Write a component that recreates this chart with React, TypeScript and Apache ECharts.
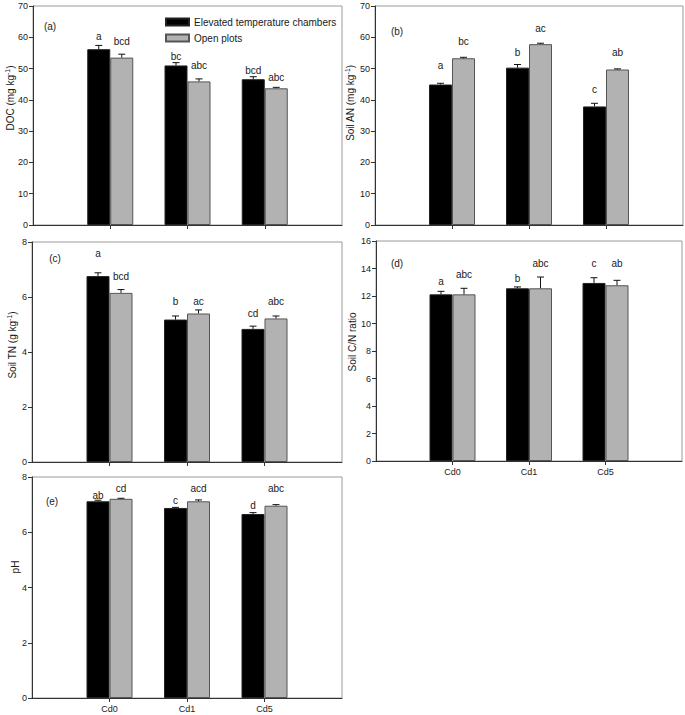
import React, { useEffect, useRef } from "react";
import * as echarts from "echarts";

const FONT = "'Liberation Sans', Arial, Helvetica, sans-serif";

const CATEGORIES = ["Cd0", "Cd1", "Cd5"];
const SERIES_NAMES = ["Elevated temperature chambers", "Open plots"];

// (a) DOC
const docChamber = [56.2, 51.0, 46.6];
const docChamberErr = [1.2, 0.9, 0.8];
const docOpen = [53.5, 45.9, 43.7];
const docOpenErr = [1.1, 0.8, 0.3];
const docChamberLetters = ["a", "bc", "bcd"];
const docOpenLetters = ["bcd", "abc", "abc"];
const docChamberLetterY = [60.4, 53.9, 49.4];
const docOpenLetterY = [58.6, 51.1, 47.2];

// (b) Soil AN
const anChamber = [44.9, 50.3, 37.9];
const anChamberErr = [0.4, 1.0, 1.0];
const anOpen = [53.3, 57.8, 49.7];
const anOpenErr = [0.3, 0.3, 0.2];
const anChamberLetters = ["a", "b", "c"];
const anOpenLetters = ["bc", "ac", "ab"];
const anChamberLetterY = [51.0, 55.1, 43.4];
const anOpenLetterY = [58.7, 62.9, 55.1];

// (c) Soil TN
const tnChamber = [6.76, 5.18, 4.84];
const tnChamberErr = [0.12, 0.13, 0.1];
const tnOpen = [6.15, 5.4, 5.22];
const tnOpenErr = [0.12, 0.13, 0.09];
const tnChamberLetters = ["a", "b", "cd"];
const tnOpenLetters = ["bcd", "ac", "abc"];
const tnChamberLetterY = [7.6, 5.85, 5.39];
const tnOpenLetterY = [6.73, 5.85, 5.85];

// (d) Soil C/N ratio
const cnChamber = [12.12, 12.56, 12.95];
const cnChamberErr = [0.22, 0.1, 0.38];
const cnOpen = [12.12, 12.56, 12.78];
const cnOpenErr = [0.44, 0.82, 0.36];
const cnChamberLetters = ["a", "b", "c"];
const cnOpenLetters = ["abc", "abc", "ab"];
const cnChamberLetterY = [13.04, 13.28, 14.38];
const cnOpenLetterY = [13.53, 14.38, 14.38];

// (e) pH
const phChamber = [7.12, 6.88, 6.66];
const phChamberErr = [0.04, 0.02, 0.05];
const phOpen = [7.21, 7.12, 6.96];
const phOpenErr = [0.02, 0.05, 0.04];
const phChamberLetters = ["ab", "c", "d"];
const phOpenLetters = ["cd", "acd", "abc"];
const phChamberLetterY = [7.33, 7.15, 6.96];
const phOpenLetterY = [7.6, 7.6, 7.6];

const Y_MAX = [70, 70, 8, 16, 8];
const Y_INTERVAL = [10, 10, 2, 2, 2];
const PANEL_TAGS = ["(a)", "(b)", "(c)", "(d)", "(e)"];

const PANELS = [
  { c: docChamber, ce: docChamberErr, o: docOpen, oe: docOpenErr, cl: docChamberLetters, ol: docOpenLetters, cy: docChamberLetterY, oy: docOpenLetterY },
  { c: anChamber, ce: anChamberErr, o: anOpen, oe: anOpenErr, cl: anChamberLetters, ol: anOpenLetters, cy: anChamberLetterY, oy: anOpenLetterY },
  { c: tnChamber, ce: tnChamberErr, o: tnOpen, oe: tnOpenErr, cl: tnChamberLetters, ol: tnOpenLetters, cy: tnChamberLetterY, oy: tnOpenLetterY },
  { c: cnChamber, ce: cnChamberErr, o: cnOpen, oe: cnOpenErr, cl: cnChamberLetters, ol: cnOpenLetters, cy: cnChamberLetterY, oy: cnOpenLetterY },
  { c: phChamber, ce: phChamberErr, o: phOpen, oe: phOpenErr, cl: phChamberLetters, ol: phOpenLetters, cy: phChamberLetterY, oy: phOpenLetterY },
];

// layout (pixels)
const GRIDS = [
  { left: 33, top: 6, width: 309, height: 219 },
  { left: 375, top: 6, width: 308, height: 219 },
  { left: 32, top: 242, width: 310, height: 220 },
  { left: 376, top: 241, width: 307, height: 220 },
  { left: 32, top: 477, width: 310, height: 221 },
];
const TAG_POS = [
  [50, 26],
  [397, 31],
  [55, 258],
  [397, 263],
  [52, 501],
];
const YTITLE_POS = [
  [10, 98],
  [350, 103],
  [12, 345],
  [352, 342],
  [15, 567],
];
const YTITLES = [
  "DOC (mg kg{sup|-1})",
  "Soil AN (mg kg{sup|-1})",
  "Soil TN (g kg{sup|-1})",
  "Soil C/N ratio",
  "pH",
];

const BAR_W = 23;
const HALF = BAR_W / 2;
const CAP = 3.5;
const TEXT_COLOR = "#1a1a1a";
const AXIS_COLOR = "#333";

function errSeries(gi: number, means: number[], errs: number[], labelY: number[], letters: string[], side: number) {
  return {
    type: "custom",
    xAxisIndex: gi,
    yAxisIndex: gi,
    silent: true,
    clip: false,
    z: 5,
    encode: { x: 0, y: 1 },
    data: means.map((m, i) => [i + 1, m, errs[i], labelY[i]]),
    renderItem: (params: any, api: any) => {
      const x = api.value(0);
      const m = api.value(1);
      const e = api.value(2);
      const ly = api.value(3);
      const base = api.coord([x, m]);
      const top = api.coord([x, m + e]);
      const lab = api.coord([x, ly]);
      const cx = base[0] + side * HALF;
      const stroke = "#111";
      return {
        type: "group",
        children: [
          { type: "line", shape: { x1: cx, y1: base[1], x2: cx, y2: top[1] }, style: { stroke, lineWidth: 1 } },
          { type: "line", shape: { x1: cx - CAP, y1: top[1], x2: cx + CAP, y2: top[1] }, style: { stroke, lineWidth: 1 } },
          {
            type: "text",
            x: cx,
            y: lab[1],
            style: {
              text: letters[params.dataIndex],
              fill: TEXT_COLOR,
              fontSize: 10,
              fontFamily: FONT,
              align: "center",
              verticalAlign: "middle",
            },
          },
        ],
      };
    },
  };
}

export default function App() {
  const ref = useRef<HTMLDivElement>(null);
  useEffect(() => {
    if (!ref.current) return;
    const chart = echarts.init(ref.current, null, { renderer: "svg" });
    const axisData = ["", ...CATEGORIES, ""];

    const grid = GRIDS.map((g) => ({
      ...g,
      show: true,
      borderColor: "#9a9a9a",
      borderWidth: 1,
      backgroundColor: "transparent",
      containLabel: false,
    }));

    const xAxis = GRIDS.map((_, i) => ({
      type: "category",
      gridIndex: i,
      data: axisData,
      boundaryGap: false,
      axisLine: { show: true, lineStyle: { color: AXIS_COLOR, width: 1 } },
      axisTick: {
        show: true,
        interval: (idx: number) => idx >= 1 && idx <= 3,
        length: 4,
        lineStyle: { color: AXIS_COLOR },
      },
      axisLabel: {
        show: i >= 3,
        interval: 0,
        fontSize: 9,
        color: TEXT_COLOR,
        fontFamily: FONT,
        margin: 6,
      },
      splitLine: { show: false },
    }));

    const yAxis = GRIDS.map((_, i) => ({
      type: "value",
      gridIndex: i,
      min: 0,
      max: Y_MAX[i],
      interval: Y_INTERVAL[i],
      axisLine: { show: true, lineStyle: { color: AXIS_COLOR, width: 1 } },
      axisTick: { show: true, length: 4, lineStyle: { color: AXIS_COLOR } },
      axisLabel: { fontSize: 9, color: TEXT_COLOR, fontFamily: FONT, margin: 5 },
      splitLine: { show: false },
    }));

    const series: any[] = [];
    PANELS.forEach((p, i) => {
      series.push({
        type: "bar",
        name: SERIES_NAMES[0],
        xAxisIndex: i,
        yAxisIndex: i,
        barWidth: BAR_W,
        barGap: "0%",
        data: ["-", ...p.c, "-"],
        itemStyle: { color: "#000000", borderColor: "#222", borderWidth: 1 },
        silent: true,
      });
      series.push({
        type: "bar",
        name: SERIES_NAMES[1],
        xAxisIndex: i,
        yAxisIndex: i,
        barWidth: BAR_W,
        barGap: "0%",
        data: ["-", ...p.o, "-"],
        itemStyle: { color: "#b2b2b2", borderColor: "#555", borderWidth: 1 },
        silent: true,
      });
      series.push(errSeries(i, p.c, p.ce, p.cy, p.cl, -1));
      series.push(errSeries(i, p.o, p.oe, p.oy, p.ol, 1));
    });

    const graphic: any[] = [];
    PANEL_TAGS.forEach((t, i) => {
      graphic.push({
        type: "text",
        x: TAG_POS[i][0],
        y: TAG_POS[i][1],
        silent: true,
        style: { text: t, fill: TEXT_COLOR, fontSize: 10, fontFamily: FONT, align: "center", verticalAlign: "middle" },
      });
    });
    YTITLES.forEach((t, i) => {
      graphic.push({
        type: "text",
        x: YTITLE_POS[i][0],
        y: YTITLE_POS[i][1],
        rotation: Math.PI / 2,
        silent: true,
        style: {
          text: t,
          fill: TEXT_COLOR,
          fontSize: 10,
          fontFamily: FONT,
          align: "center",
          verticalAlign: "middle",
          lineHeight: 13,
          rich: {
            sup: { fontSize: 7, fontFamily: FONT, fill: TEXT_COLOR, verticalAlign: "top", lineHeight: 9 },
          },
        },
      });
    });

    chart.setOption({
      animation: false,
      backgroundColor: "#ffffff",
      textStyle: { fontFamily: FONT },
      grid,
      xAxis,
      yAxis,
      legend: {
        left: 160,
        top: 12,
        orient: "vertical",
        icon: "rect",
        itemWidth: 23,
        itemHeight: 7,
        itemGap: 6,
        selectedMode: false,
        data: SERIES_NAMES,
        textStyle: { fontSize: 10, color: TEXT_COLOR, fontFamily: FONT },
      },
      graphic,
      series,
    });
    return () => chart.dispose();
  }, []);
  return (
    <div
      ref={ref}
      style={{ position: "fixed", left: 0, top: 0, width: 685, height: 715, background: "#fff" }}
    />
  );
}
